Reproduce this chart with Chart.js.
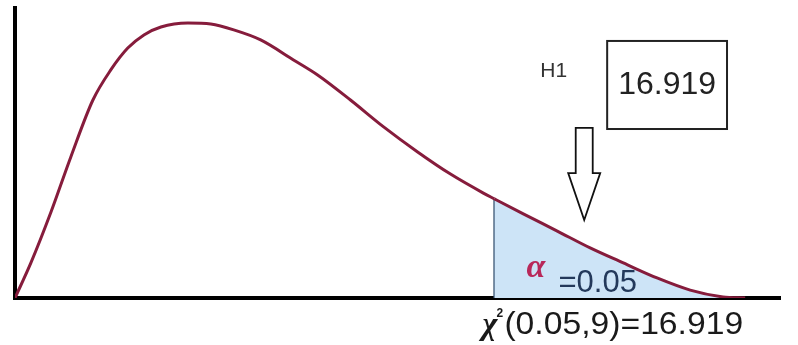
<!DOCTYPE html>
<html>
<head>
<meta charset="utf-8">
<script src="https://cdn.jsdelivr.net/npm/chart.js@4"></script>
<style>
  html, body { margin: 0; padding: 0; background: #fff; }
  #wrap { width: 798px; height: 345px; }
</style>
</head>
<body>
<div id="wrap"><canvas id="graph_chi2"></canvas></div>
<script>
// valeurs (chi2, ddl = 9)
const chiX = [0, 0.56, 1.27, 1.97, 2.75, 3.38, 3.98, 4.55, 5.15, 6.10, 6.91, 7.72, 8.67,
  9.83, 10.68, 11.84, 13.01, 14.21, 15.37, 16.53, 16.919,
  17.94, 19.14, 20.30, 21.47, 22.66, 23.83, 24.99, 25.77];
const density = [0, 0.0133, 0.0326, 0.0535, 0.0751, 0.0865, 0.0948, 0.0998, 0.1028, 0.1043, 0.1039, 0.1017, 0.0979,
  0.0903, 0.0846, 0.0751, 0.0649, 0.0554, 0.0470, 0.0398, 0.0376,
  0.0319, 0.0254, 0.0190, 0.0133, 0.0076, 0.0030, 0.0004, 0];
const critValue = 16.919;
const alphaLevel = '0.05';
const ddl = 9;
const hypothesis = 'H1';

const points = chiX.map((x, i) => ({ x, y: density[i] }));
const critY = density[chiX.indexOf(critValue)];

// textes et fleche (position en unites du graphique)
const notes = {
  h1: { x: 18.54, y: 0.0838 },
  box: { x1: 20.90, x2: 25.13, y1: 0.0975, y2: 0.0641, base: 0.0772 },
  arrow: { x: 20.09, top: 0.0645, neck: 0.0474, tip: 0.0296 },
  alpha: { x: 18.05, y: 0.0080 },
  alphaVal: { x: 19.18, y: 0.0023 },
  label: { x: 16.50, y: -0.0137, right: 25.70 }
};

const annotations = {
  id: 'annotations',
  afterDatasetsDraw(chart) {
    const { ctx, scales: { x, y } } = chart;
    const px = v => x.getPixelForValue(v);
    const py = v => y.getPixelForValue(v);
    ctx.save();
    ctx.textBaseline = 'alphabetic';

    // H1
    ctx.fillStyle = '#333';
    ctx.font = '21px "Liberation Sans", Arial, sans-serif';
    ctx.fillText(hypothesis, px(notes.h1.x), py(notes.h1.y));

    // boite 16.919
    const b = notes.box;
    ctx.strokeStyle = '#222';
    ctx.lineWidth = 2;
    ctx.strokeRect(px(b.x1), py(b.y1), px(b.x2) - px(b.x1), py(b.y2) - py(b.y1));
    ctx.fillStyle = '#222';
    ctx.font = '32px "Liberation Sans", Arial, sans-serif';
    ctx.textAlign = 'center';
    ctx.fillText(critValue.toFixed(3), (px(b.x1) + px(b.x2)) / 2, py(b.base));
    ctx.textAlign = 'left';

    // fleche creuse
    const a = notes.arrow;
    const ax = px(a.x), top = py(a.top), neck = py(a.neck), tip = py(a.tip);
    ctx.beginPath();
    ctx.moveTo(ax - 8.5, top);
    ctx.lineTo(ax + 8.5, top);
    ctx.lineTo(ax + 8.5, neck);
    ctx.lineTo(ax + 16, neck);
    ctx.lineTo(ax, tip);
    ctx.lineTo(ax - 16, neck);
    ctx.lineTo(ax - 8.5, neck);
    ctx.closePath();
    ctx.fillStyle = '#fff';
    ctx.fill();
    ctx.lineWidth = 1.8;
    ctx.strokeStyle = '#111';
    ctx.stroke();

    // alpha = 0.05
    ctx.fillStyle = '#b8285a';
    ctx.font = 'bold italic 34px "Liberation Serif", "Times New Roman", serif';
    ctx.fillText('α', px(notes.alpha.x), py(notes.alpha.y));
    ctx.fillStyle = '#23395b';
    ctx.font = '31px "Liberation Sans", Arial, sans-serif';
    ctx.fillText('=' + alphaLevel, px(notes.alphaVal.x), py(notes.alphaVal.y));

    // chi2(0.05,9)=16.919
    const l = notes.label;
    const lx = px(l.x), ly = py(l.y);
    ctx.fillStyle = '#1a1a1a';
    ctx.font = 'bold italic 32px "Liberation Serif", "Times New Roman", serif';
    ctx.fillText('χ', lx, ly);
    const chiW = ctx.measureText('χ').width;
    ctx.font = 'bold 12px "Liberation Sans", Arial, sans-serif';
    ctx.fillText('2', lx + chiW - 1, ly - 17);
    const rest = `(${alphaLevel},${ddl})=${critValue.toFixed(3)}`;
    ctx.font = '31px "Liberation Sans", Arial, sans-serif';
    const start = lx + chiW + 7;
    const target = px(l.right) - start;
    const w = ctx.measureText(rest).width;
    ctx.translate(start, ly);
    ctx.scale(target / w, 1);
    ctx.fillText(rest, 0, 0);
    ctx.restore();
  }
};

const ctx = document.getElementById('graph_chi2').getContext('2d');
new Chart(ctx, {
  type: 'scatter',
  data: {
    datasets: [{
      label: 'chi2',
      data: points,
      showLine: true,
      borderColor: '#861c3c',
      borderWidth: 3,
      pointRadius: 0,
      cubicInterpolationMode: 'monotone',
      fill: 'origin',
      backgroundColor: 'rgba(0,0,0,0)',
      segment: {
        backgroundColor: c => c.p0.parsed.x >= critValue ? '#cde4f7' : 'rgba(0,0,0,0)'
      }
    }, {
      label: 'critique',
      data: [{ x: critValue, y: 0 }, { x: critValue, y: critY }],
      showLine: true,
      borderColor: '#34506e',
      borderWidth: 2,
      pointRadius: 0,
      fill: false
    }]
  },
  options: {
    responsive: true,
    maintainAspectRatio: false,
    animation: false,
    layout: { padding: { left: 7, right: 18, top: 8, bottom: 39 } },
    plugins: {
      legend: { display: false },
      tooltip: { enabled: false }
    },
    scales: {
      x: {
        type: 'linear', min: 0, max: 27,
        grid: { display: false },
        ticks: { display: false },
        border: { display: true, color: '#000', width: 4 }
      },
      y: {
        min: 0, max: 0.11,
        grid: { display: false },
        ticks: { display: false },
        border: { display: true, color: '#000', width: 4 }
      }
    }
  },
  plugins: [annotations]
});
</script>
</body>
</html>
